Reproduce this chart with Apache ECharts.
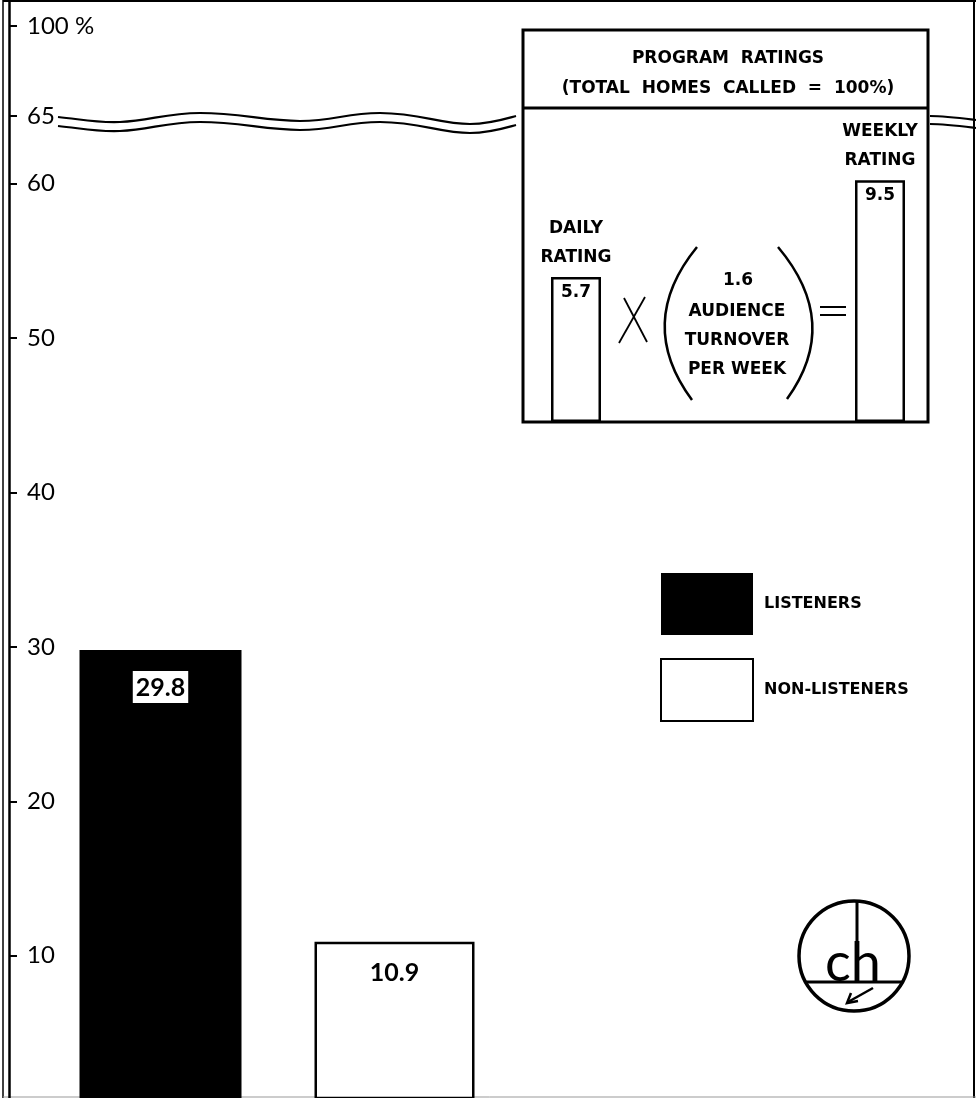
<!DOCTYPE html>
<html>
<head>
<meta charset="utf-8">
<script src="https://cdn.jsdelivr.net/npm/echarts@6/dist/echarts.min.js"></script>
<style>html,body{margin:0;padding:0;background:#fff}#c{width:976px;height:1098px}</style>
</head>
<body>
<div id="c"></div>
<script>
// ---- data ----
const categories = ['LISTENERS', 'NON-LISTENERS'];
const listenersValues = [29.8, '-'];
const nonListenersValues = ['-', 10.9];
const yTickValues = [10, 20, 30, 40, 50, 60, 65, 100];
const yTickLabels = ['10', '20', '30', '40', '50', '60', '65', '100 %'];
const insetCategories = ['DAILY\nRATING', '', 'WEEKLY\nRATING'];
const insetValues = [5.7, '-', 9.5];
const turnoverValue = 1.6;
const turnoverLines = ['AUDIENCE', 'TURNOVER', 'PER WEEK'];
const insetTitle = ['PROGRAM  RATINGS', '(TOTAL  HOMES  CALLED  =  100%)'];
const logoText = 'ch';

// broken axis: linear to 60, compressed above
function toAxis(v) {
  if (v <= 60) return v;
  if (v <= 65) return 60 + (v - 60) * (64.4 - 60) / 5;
  return 64.4 + (v - 65) * (70.2 - 64.4) / 35;
}
const tickPos = yTickValues.map(toAxis);
function tickLabel(val) {
  for (let i = 0; i < tickPos.length; i++) if (Math.abs(tickPos[i] - val) < 1e-6) return yTickLabels[i];
  return '';
}

const FONT = 'Lato';
const BFONT = 'DejaVu Sans';
const blk = '#000';
const chart = echarts.init(document.getElementById('c'), null, {renderer: 'canvas'});

function waveSegs(pts, dy, w) {
  const out = [];
  for (let i = 0; i + 3 < pts.length; i += 3) {
    out.push({type: 'bezierCurve', shape: {
      x1: pts[i][0], y1: pts[i][1] + dy,
      cpx1: pts[i+1][0], cpy1: pts[i+1][1] + dy,
      cpx2: pts[i+2][0], cpy2: pts[i+2][1] + dy,
      x2: pts[i+3][0], y2: pts[i+3][1] + dy},
      style: {stroke: blk, fill: null, lineWidth: w}});
  }
  return out;
}
const leftWave = [[58,117],[80,119],[95,123],[120,122],[150,121],[165,113],[200,113],[240,113],[265,121],[300,121],
  [335,121],[345,113],[380,113],[420,113],[440,124],[470,124],[490,124],[505,119],[516,116]];
const rightWave = [[930,116],[945,116],[960,118],[976,120]];

const graphics = [
  // frame
  {type:'line', shape:{x1:3,y1:0,x2:3,y2:1098}, style:{stroke:blk,lineWidth:1.5}},
  {type:'line', shape:{x1:3,y1:1,x2:976,y2:1}, style:{stroke:blk,lineWidth:2}},
  {type:'line', shape:{x1:974,y1:0,x2:974,y2:1098}, style:{stroke:blk,lineWidth:2}},
  {type:'line', shape:{x1:3,y1:1097,x2:976,y2:1097}, style:{stroke:'#999',lineWidth:1}},
  ...waveSegs(leftWave, 0, 2.2), ...waveSegs(leftWave, 9, 2.2),
  ...waveSegs(rightWave, 0, 2.2), ...waveSegs(rightWave, 8, 2.2),
  // inset frame
  {type:'rect', shape:{x:523,y:30,width:405,height:392}, style:{stroke:blk,fill:null,lineWidth:3}, z:1},
  {type:'line', shape:{x1:523,y1:108,x2:928,y2:108}, style:{stroke:blk,lineWidth:3}},
  {type:'text', x:728, y:59, style:{text:insetTitle[0], font:'bold 17px "' + BFONT + '"', fill:blk, textAlign:'center', textVerticalAlign:'middle'}},
  {type:'text', x:728, y:89, style:{text:insetTitle[1], font:'bold 17px "' + BFONT + '"', fill:blk, textAlign:'center', textVerticalAlign:'middle'}},
  // X sign
  {type:'line', shape:{x1:619,y1:343,x2:645,y2:297}, style:{stroke:blk,lineWidth:1.8}},
  {type:'line', shape:{x1:624,y1:298,x2:647,y2:342}, style:{stroke:blk,lineWidth:1.8}},
  // parentheses
  {type:'bezierCurve', shape:{x1:697,y1:247,cpx1:635,cpy1:323,x2:692,y2:400}, style:{stroke:blk,fill:null,lineWidth:2.5}},
  {type:'bezierCurve', shape:{x1:778,y1:247,cpx1:842,cpy1:323,x2:787,y2:399}, style:{stroke:blk,fill:null,lineWidth:2.5}},
  // equals
  {type:'line', shape:{x1:820,y1:307,x2:846,y2:307}, style:{stroke:blk,lineWidth:2}},
  {type:'line', shape:{x1:820,y1:315,x2:846,y2:315}, style:{stroke:blk,lineWidth:2}},
  {type:'text', x:738, y:281, style:{text:String(turnoverValue), font:'bold 17px "' + BFONT + '"', fill:blk, textAlign:'center', textVerticalAlign:'middle'}},
  {type:'text', x:737, y:341, style:{text:turnoverLines.join('\n'), font:'bold 17px "' + BFONT + '"', lineHeight:29, fill:blk, textAlign:'center', textVerticalAlign:'middle'}},
  // logo
  {type:'circle', shape:{cx:854,cy:956,r:55}, style:{stroke:blk,fill:null,lineWidth:3.5}},
  {type:'line', shape:{x1:857,y1:901,x2:857,y2:982}, style:{stroke:blk,lineWidth:3}},
  {type:'line', shape:{x1:805,y1:982,x2:903,y2:982}, style:{stroke:blk,lineWidth:3}},
  {type:'text', x:853, y:991, style:{text:logoText, font:'54px ' + FONT, fill:blk, textAlign:'center', textVerticalAlign:'bottom'}},
  {type:'polyline', shape:{points:[[873,988],[848,1002]]}, style:{stroke:blk,fill:null,lineWidth:2.5}},
  {type:'polyline', shape:{points:[[851,993],[847,1003],[858,1001]]}, style:{stroke:blk,fill:null,lineWidth:2.5}}
];

const option = {
  backgroundColor: '#fff',
  animation: false,
  textStyle: {fontFamily: FONT},
  grid: [
    {left: 42, width: 470, top: 0, bottom: 0},
    {left: 500, width: 456, top: 30, bottom: 676}
  ],
  xAxis: [
    {type: 'category', gridIndex: 0, data: categories, show: false},
    {type: 'category', gridIndex: 1, data: insetCategories, show: false}
  ],
  yAxis: [
    {type: 'value', gridIndex: 0, min: 0.78, max: 71.9, offset: 33,
      axisLine: {show: true, onZero: false, lineStyle: {color: blk, width: 2.5}},
      splitLine: {show: false},
      axisTick: {show: true, inside: true, length: 8, customValues: tickPos, lineStyle: {color: blk, width: 2}},
      axisLabel: {inside: true, margin: 18, customValues: tickPos, formatter: tickLabel,
        color: blk, fontSize: 24, fontFamily: FONT}
    },
    {type: 'value', gridIndex: 1, min: 0, max: 15.4, show: false}
  ],
  legend: {
    left: 655, top: 568, orient: 'vertical', itemWidth: 92, itemHeight: 62, itemGap: 23,
    textStyle: {fontFamily: BFONT, fontWeight: 'bold', fontSize: 16, color: blk, padding: [0, 0, 0, 6]},
    data: [
      {name: 'LISTENERS', icon: 'rect', itemStyle: {color: blk, borderColor: blk, borderWidth: 0}},
      {name: 'NON-LISTENERS', icon: 'rect', itemStyle: {color: '#fff', borderColor: blk, borderWidth: 2}}
    ]
  },
  series: [
    {name: 'LISTENERS', type: 'bar', xAxisIndex: 0, yAxisIndex: 0, data: listenersValues,
      barWidth: 162, barGap: '-100%',
      itemStyle: {color: blk},
      label: {show: true, position: 'insideTop', distance: 21, color: blk, backgroundColor: '#fff',
        padding: [4, 3, 3, 3], fontSize: 25, fontWeight: 'bold', fontFamily: FONT}
    },
    {name: 'NON-LISTENERS', type: 'bar', xAxisIndex: 0, yAxisIndex: 0, data: nonListenersValues,
      barWidth: 160, barGap: '-100%',
      itemStyle: {color: '#fff', borderColor: blk, borderWidth: 2.5},
      label: {show: true, position: 'insideTop', distance: 19, color: blk,
        fontSize: 25, fontWeight: 'bold', fontFamily: FONT}
    },
    {name: 'inset', type: 'bar', xAxisIndex: 1, yAxisIndex: 1, data: insetValues, barWidth: 50,
      itemStyle: {color: '#fff', borderColor: blk, borderWidth: 2.5},
      label: {show: true, position: 'insideTop', distance: 7, color: blk, fontSize: 17, fontWeight: 'bold', fontFamily: BFONT}
    },
    {name: 'insetNames', type: 'scatter', xAxisIndex: 1, yAxisIndex: 1, data: insetValues, symbolSize: 0.1,
      itemStyle: {opacity: 1, color: 'rgba(0,0,0,0)'},
      label: {show: true, position: 'top', distance: 5, color: blk, fontSize: 17, fontWeight: 'bold',
        lineHeight: 29, fontFamily: BFONT, formatter: p => p.name}
    }
  ],
  graphic: graphics
};
chart.setOption(option);
</script>
</body>
</html>
